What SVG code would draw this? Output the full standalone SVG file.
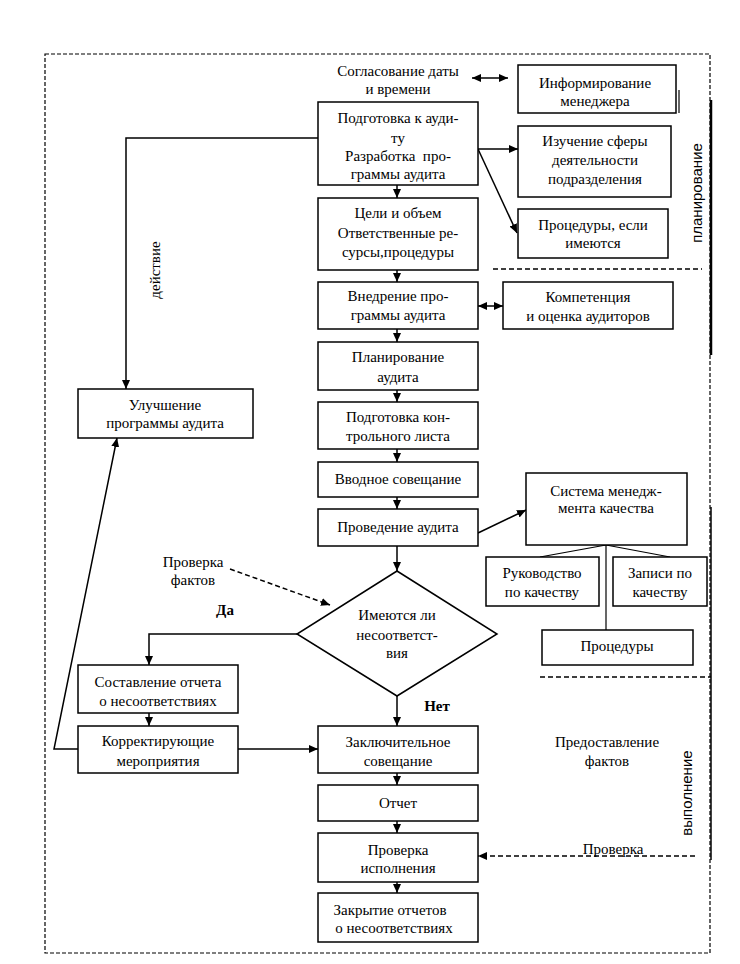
<svg xmlns="http://www.w3.org/2000/svg" width="740" height="964" viewBox="0 0 740 964">
<style>
.box{fill:#fff;stroke:#000;stroke-width:1.5}
.t{font-family:"Liberation Serif","Times New Roman",serif;font-size:15px;fill:#000;text-anchor:middle}
.b{font-weight:bold}
.v{font-family:"Liberation Sans",Arial,sans-serif;font-size:15px;fill:#000;text-anchor:middle}
.ln{fill:none;stroke:#000;stroke-width:1.5}
.thin{fill:none;stroke:#000;stroke-width:1.2}
.ar{marker-end:url(#ah)}
.dar{marker-start:url(#ah);marker-end:url(#ah)}
.dash{fill:none;stroke:#000;stroke-width:1.5;stroke-dasharray:5 3}
.border{fill:none;stroke:#000;stroke-width:1.2;stroke-dasharray:4 2}
</style>
<defs>
<marker id="ah" markerUnits="userSpaceOnUse" markerWidth="9" markerHeight="8" refX="9" refY="4" orient="auto-start-reverse">
<path d="M0,0 L9,4 L0,8 z" fill="#000"/>
</marker>
</defs>
<rect width="740" height="964" fill="#fff"/>
<g id="frame">
<rect class="border" x="45" y="54" width="665" height="899"/>
<line x1="711" y1="100" x2="711" y2="355" stroke="#000" stroke-width="2.5"/>
<line x1="711" y1="507" x2="711" y2="860" stroke="#000" stroke-width="1.5"/>
<line class="dash" x1="493" y1="269" x2="702" y2="269"/>
<line class="dash" x1="540" y1="677" x2="711" y2="677"/>
<text class="v" transform="translate(697,193) rotate(-90)" y="5">планирование</text>
<text class="v" transform="translate(687,793) rotate(-90)" y="5">выполнение</text>
<text class="t" transform="translate(155,270) rotate(-90)" y="5">действие</text>
</g>
<g id="connectors">
<line class="ln ar" x1="397" y1="185" x2="397" y2="198"/>
<line class="ln ar" x1="397" y1="270" x2="397" y2="282"/>
<line class="ln ar" x1="397" y1="329" x2="397" y2="342"/>
<line class="ln ar" x1="397" y1="390" x2="397" y2="402"/>
<line class="ln ar" x1="397" y1="449" x2="397" y2="462"/>
<line class="ln ar" x1="397" y1="497" x2="397" y2="509"/>
<line class="ln ar" x1="397" y1="546" x2="397" y2="571"/>
<line class="ln ar" x1="397" y1="696" x2="397" y2="726"/>
<line class="ln ar" x1="397" y1="773" x2="397" y2="785"/>
<line class="ln ar" x1="397" y1="821" x2="397" y2="833"/>
<line class="ln ar" x1="397" y1="882" x2="397" y2="893"/>
<line class="ln ar" x1="478" y1="149" x2="518" y2="149"/>
<line class="ln ar" x1="478" y1="149" x2="517" y2="233"/>
<line class="ln dar" x1="472" y1="78" x2="508" y2="78"/>
<line class="ln dar" x1="478" y1="306" x2="503" y2="306"/>
<line class="ln ar" x1="478" y1="533" x2="526" y2="510"/>
<line class="thin" x1="606" y1="545" x2="540" y2="557"/>
<line class="thin" x1="606" y1="545" x2="670" y2="557"/>
<line class="thin" x1="606" y1="545" x2="606" y2="630"/>
<polyline class="ln ar" points="318,138 126,138 126,389"/>
<polyline class="ln ar" points="297,634 149,634 149,665"/>
<line class="ln ar" x1="149" y1="713" x2="149" y2="726"/>
<line class="ln ar" x1="238" y1="749" x2="318" y2="749"/>
<polyline class="ln ar" points="78,749 54,749 117,438"/>
<line class="dash ar" x1="230" y1="569" x2="330" y2="605"/>
<line class="dash ar" x1="695" y1="856" x2="478" y2="856"/>
</g>
<g id="soglasovanie">
<text class="t" x="398" y="76">Согласование даты</text>
<text class="t" x="398" y="94">и времени</text>
</g>
<g id="informirovanie">
<rect class="box" x="518" y="65" width="158" height="48"/>
<line class="thin" x1="679" y1="90" x2="679" y2="113"/>
<text class="t" x="595" y="88">Информирование</text>
<text class="t" x="595" y="106">менеджера</text>
</g>
<g id="podgotovka">
<rect class="box" x="318" y="102" width="160" height="83"/>
<text class="t" x="398" y="123">Подготовка к ауди-</text>
<text class="t" x="398" y="143">ту</text>
<text class="t" x="398" y="161" xml:space="preserve">Разработка  про-</text>
<text class="t" x="398" y="179">граммы аудита</text>
</g>
<g id="izuchenie">
<rect class="box" x="518" y="126" width="153" height="71"/>
<text class="t" x="595" y="146">Изучение сферы</text>
<text class="t" x="595" y="165">деятельности</text>
<text class="t" x="595" y="184">подразделения</text>
</g>
<g id="procedury_esli">
<rect class="box" x="518" y="209" width="150" height="49"/>
<text class="t" x="593" y="230">Процедуры, если</text>
<text class="t" x="593" y="248">имеются</text>
</g>
<g id="celi">
<rect class="box" x="318" y="198" width="160" height="72"/>
<text class="t" x="398" y="218">Цели и объем</text>
<text class="t" x="398" y="238">Ответственные ре-</text>
<text class="t" x="398" y="257">сурсы,процедуры</text>
</g>
<g id="vnedrenie">
<rect class="box" x="318" y="282" width="160" height="47"/>
<text class="t" x="398" y="301">Внедрение про-</text>
<text class="t" x="398" y="320">граммы аудита</text>
</g>
<g id="kompetencia">
<rect class="box" x="503" y="282" width="170" height="47"/>
<text class="t" x="588" y="302">Компетенция</text>
<text class="t" x="588" y="321">и оценка аудиторов</text>
</g>
<g id="planirovanie">
<rect class="box" x="318" y="342" width="160" height="48"/>
<text class="t" x="398" y="362">Планирование</text>
<text class="t" x="398" y="382">аудита</text>
</g>
<g id="uluchshenie">
<rect class="box" x="78" y="389" width="175" height="49"/>
<text class="t" x="165" y="410">Улучшение</text>
<text class="t" x="165" y="428">программы аудита</text>
</g>
<g id="kontrolny_list">
<rect class="box" x="318" y="402" width="160" height="47"/>
<text class="t" x="398" y="422">Подготовка кон-</text>
<text class="t" x="398" y="441">трольного листа</text>
</g>
<g id="vvodnoe">
<rect class="box" x="318" y="462" width="160" height="35"/>
<text class="t" x="398" y="484">Вводное совещание</text>
</g>
<g id="provedenie">
<rect class="box" x="318" y="509" width="160" height="37"/>
<text class="t" x="398" y="532">Проведение аудита</text>
</g>
<g id="sistema">
<rect class="box" x="526" y="473" width="161" height="72"/>
<text class="t" x="606" y="496">Система менедж-</text>
<text class="t" x="606" y="513">мента качества</text>
</g>
<g id="rukovodstvo">
<rect class="box" x="486" y="557" width="113" height="49"/>
<text class="t" x="542" y="578">Руководство</text>
<text class="t" x="542" y="597">по качеству</text>
</g>
<g id="zapisi">
<rect class="box" x="613" y="557" width="94" height="49"/>
<text class="t" x="660" y="578">Записи по</text>
<text class="t" x="660" y="597">качеству</text>
</g>
<g id="procedury">
<rect class="box" x="542" y="630" width="151" height="35"/>
<text class="t" x="617" y="651">Процедуры</text>
</g>
<g id="proverka_faktov">
<text class="t" x="193" y="567">Проверка</text>
<text class="t" x="193" y="585">фактов</text>
</g>
<g id="diamond">
<polygon class="box" points="397,571 497,634 397,696 297,634"/>
<text class="t" x="397" y="620">Имеются ли</text>
<text class="t" x="397" y="640">несоответст-</text>
<text class="t" x="397" y="658">вия</text>
</g>
<g id="labels">
<text class="t b" x="225" y="615">Да</text>
<text class="t b" x="437" y="711">Нет</text>
</g>
<g id="sostavlenie">
<rect class="box" x="78" y="665" width="160" height="48"/>
<text class="t" x="158" y="687">Составление отчета</text>
<text class="t" x="158" y="706">о несоответствиях</text>
</g>
<g id="korrektiruyushchie">
<rect class="box" x="78" y="726" width="160" height="47"/>
<text class="t" x="158" y="746">Корректирующие</text>
<text class="t" x="158" y="766">мероприятия</text>
</g>
<g id="zaklyuchitelnoe">
<rect class="box" x="318" y="726" width="160" height="47"/>
<text class="t" x="398" y="747">Заключительное</text>
<text class="t" x="398" y="766">совещание</text>
</g>
<g id="predostavlenie">
<text class="t" x="607" y="747">Предоставление</text>
<text class="t" x="607" y="766">фактов</text>
</g>
<g id="otchet">
<rect class="box" x="318" y="785" width="160" height="36"/>
<text class="t" x="398" y="808">Отчет</text>
</g>
<g id="proverka_ispolneniya">
<rect class="box" x="318" y="833" width="160" height="49"/>
<text class="t" x="398" y="855">Проверка</text>
<text class="t" x="398" y="873">исполнения</text>
</g>
<g id="proverka">
<text class="t" x="613" y="854">Проверка</text>
</g>
<g id="zakrytie">
<rect class="box" x="318" y="893" width="160" height="49"/>
<text class="t" x="390" y="915">Закрытие отчетов</text>
<text class="t" x="394" y="933">о несоответствиях</text>
</g>
</svg>
